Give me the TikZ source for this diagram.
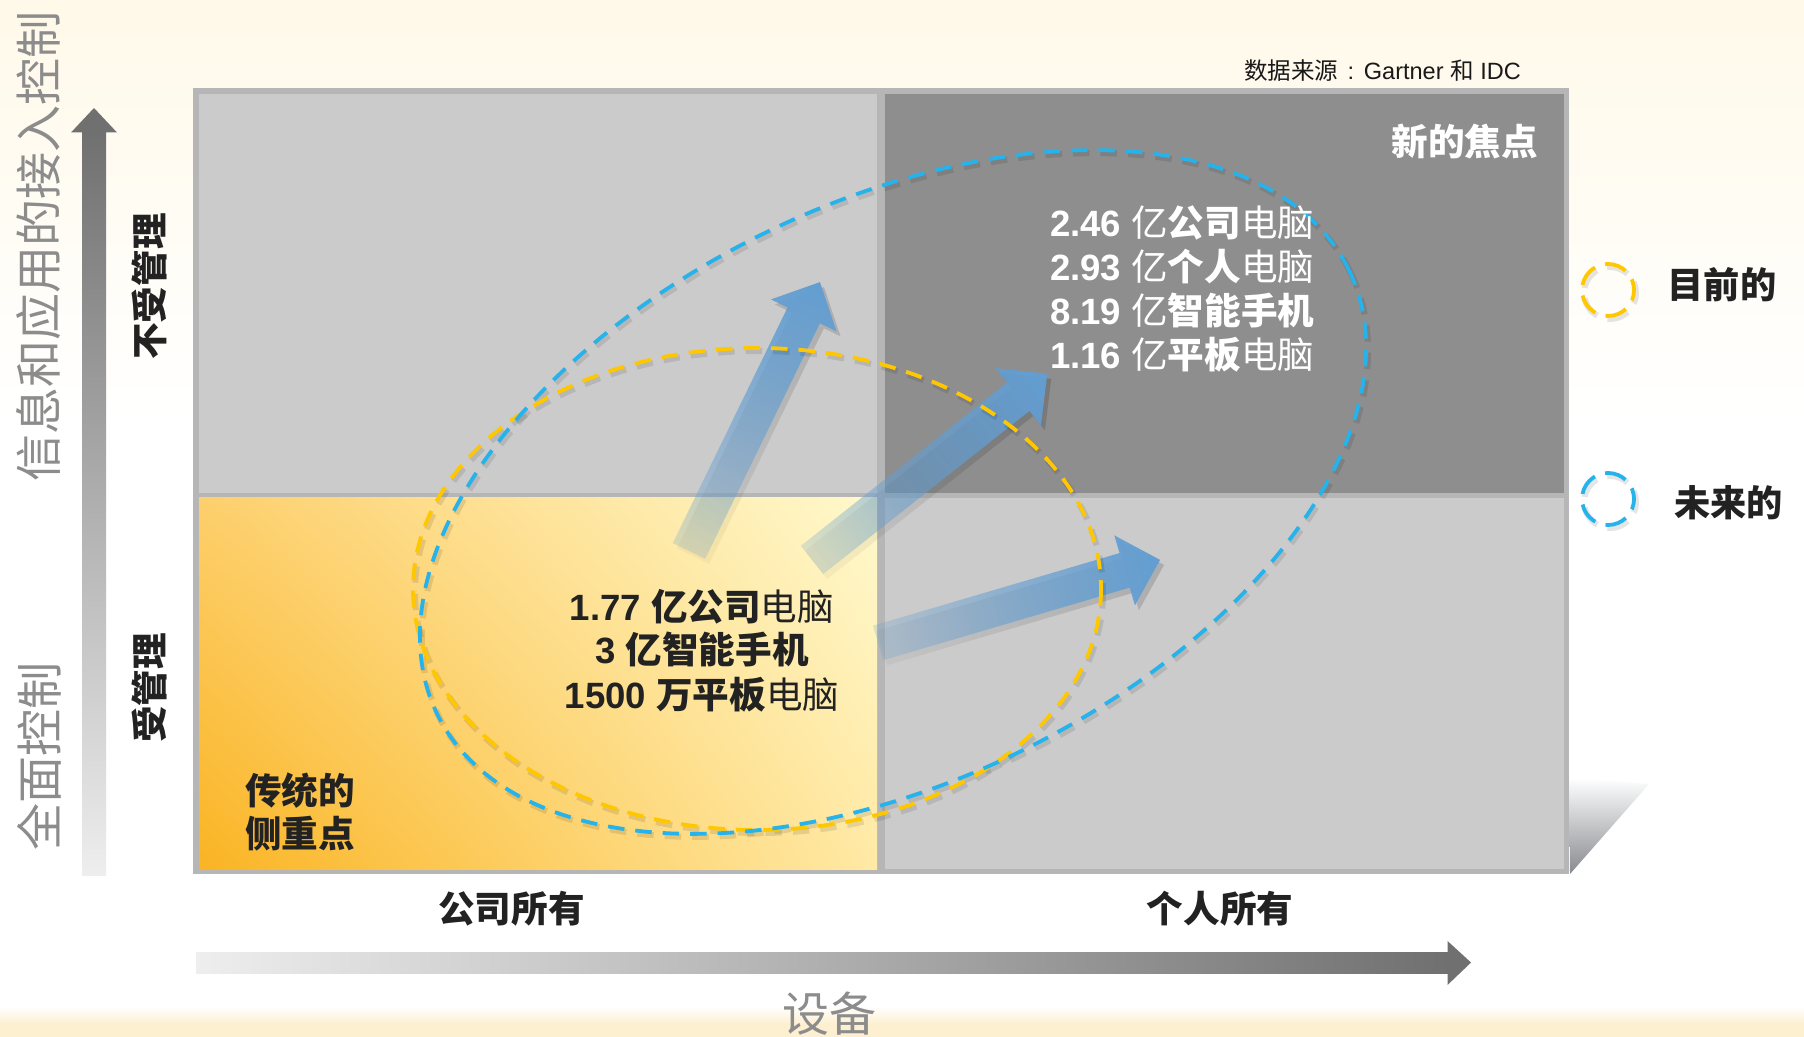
\documentclass[tikz,border=0pt]{standalone}
\usepackage{fontspec}
\setmainfont{Liberation Sans}
\newfontfamily\cjk{Noto Sans CJK SC}
\usetikzlibrary{fadings,shadings}

\begin{tikzfadingfrompicture}[name=arrowfade]
  \fill[transparent!100] (-50bp,-50bp) rectangle (-38bp,50bp);
  \shade[left color=transparent!100, middle color=transparent!68, right color=transparent!0] (-38.5bp,-50bp) rectangle (24bp,50bp);
  \fill[transparent!0] (23.5bp,-50bp) rectangle (50bp,50bp);
\end{tikzfadingfrompicture}

\definecolor{cream}{RGB}{255,249,233}
\definecolor{creamB}{RGB}{253,240,208}
\definecolor{qlight}{RGB}{203,203,203}
\definecolor{qdark}{RGB}{142,142,142}
\definecolor{qborder}{RGB}{182,182,182}
\definecolor{axisgray}{RGB}{140,140,140}
\definecolor{txtdark}{RGB}{34,34,34}
\definecolor{ablue}{RGB}{99,158,210}
\definecolor{dblue}{RGB}{38,178,234}
\definecolor{dyellow}{RGB}{255,199,0}
\definecolor{orangeLL}{RGB}{250,180,35}
\definecolor{orangeUL}{RGB}{253,207,108}
\definecolor{orangeLR}{RGB}{255,233,165}
\definecolor{orangeUR}{RGB}{255,249,205}
\definecolor{axdark}{RGB}{112,112,112}
\definecolor{axlight}{RGB}{238,238,238}
\definecolor{wedgegray}{RGB}{135,138,143}

\newcommand\zb[1]{{\cjk\bfseries #1}}
\newcommand\zr[1]{{\cjk\mdseries #1}}

\newcommand\fadearrow[5]{% #1 name, #2 tail x, #3 tail y, #4 angle, #5 length
  \pgfmathsetmacro\afcx{#2+0.5*#5*cos(#4)}%
  \pgfmathsetmacro\afcy{#3-0.5*#5*sin(#4)}%
  \pgfmathsetmacro\afh{0.5*#5+4}%
  \pgfmathsetmacro\afs{#5-37}%
  \coordinate (#1-s1) at (\afcx-\afh+4,\afcy-\afh+5);
  \coordinate (#1-s2) at (\afcx+\afh+4,\afcy+\afh+5);
  \coordinate (#1-b1) at (\afcx-\afh,\afcy-\afh);
  \coordinate (#1-b2) at (\afcx+\afh,\afcy+\afh);
  \begin{scope}[shift={(#2+4,#3+5)}, rotate=#4]
    \fill[black, fill opacity=0.15, path fading=arrowfade, fading angle=#4]
      (#1-s1) (#1-s2) (0,-18) -- (\afs,-18) -- (\afs,-36.5) -- (#5,0) -- (\afs,36.5) -- (\afs,18) -- (0,18) -- cycle;
  \end{scope}
  \begin{scope}[shift={(#2,#3)}, rotate=#4]
    \fill[ablue, path fading=arrowfade, fading angle=#4]
      (#1-b1) (#1-b2) (0,-18) -- (\afs,-18) -- (\afs,-36.5) -- (#5,0) -- (\afs,36.5) -- (\afs,18) -- (0,18) -- cycle;
  \end{scope}
}

\tikzset{
  lbl/.style={inner sep=0pt, outer sep=0pt},
  axistxt/.style={lbl, text=axisgray, font=\cjk\fontsize{13.37pt}{15pt}\selectfont},
  boldlbl/.style={lbl, text=txtdark, font=\cjk\bfseries\fontsize{10.4pt}{12.5pt}\selectfont},
  numline/.style={lbl, font=\bfseries\fontsize{10.4pt}{12.5pt}\selectfont},
  dashln/.style={line width=0.038cm, dash pattern=on 0.165cm off 0.11cm},
  dashshadow/.style={dashln, draw=black, draw opacity=0.10, line width=0.06cm},
  legcirc/.style={circle, minimum size=0.52cm, inner sep=0pt, line width=0.038cm,
    dash pattern=on 0.22cm off 0.107cm, dash phase=0.11cm},
}

\begin{document}
\begin{tikzpicture}[x=0.01cm, y=-0.01cm]
\useasboundingbox (0,0) rectangle (1804,1037);
% background
\fill[white] (0,0) rectangle (1804,1037);
\shade[top color=cream, bottom color=white] (0,0) rectangle (1804,420);
\shade[top color=white, bottom color=creamB] (0,1006) rectangle (1804,1024);
\fill[creamB] (0,1023.5) rectangle (1804,1037);

% main frame and quadrants
\fill[qborder] (193,88) rectangle (1569,874);
\fill[qlight] (199,94) rectangle (877,493);
\fill[qdark] (885,94) rectangle (1564,493);
\shade[upper left=orangeUL, upper right=orangeUR, lower left=orangeLL, lower right=orangeLR] (199,498) rectangle (877,869);
\fill[qlight] (885,498) rectangle (1564,869);
% wedge shadow
\shade[top color=white, bottom color=wedgegray] (1569,778) -- (1649,784) -- (1570,874) -- cycle;

% axis arrows
\shade[top color=axdark, bottom color=axlight] (82,132) rectangle (106,875);
\fill[axdark] (71,132.5) -- (94,108) -- (117,132.5) -- cycle;
\shade[left color=axlight, right color=axdark] (196,952) rectangle (1448,973);
\fill[axdark] (1447.5,941) -- (1471,962.5) -- (1447.5,985) -- cycle;

% blue fading arrows
\fadearrow{ar1}{689}{551}{64.03}{299}
\fadearrow{ar2}{812}{560}{38.36}{300}
\fadearrow{ar3}{878}{643}{16.4}{294}

% dashed ellipses
\draw[dashshadow, shift={(2,3)}] (757,589) ellipse [x radius=344, y radius=241];
\draw[dashshadow, shift={(2,3)}, rotate around={26:(893,492)}] (893,492) ellipse [x radius=507, y radius=289];
\draw[dashln, draw=dyellow] (757,589) ellipse [x radius=344, y radius=241];
\draw[dashln, draw=dblue, rotate around={26:(893,492)}] (893,492) ellipse [x radius=507, y radius=289];

% legend
\node[legcirc, draw=black, draw opacity=0.10, line width=0.06cm] (legYs) at (1610,293) {};
\node[legcirc, draw=black, draw opacity=0.10, line width=0.06cm] (legBs) at (1610,502) {};
\node[legcirc, draw=dyellow] (legY) at (1608,290) {};
\node[legcirc, draw=dblue] (legB) at (1608,499) {};
\node[boldlbl, font=\cjk\bfseries\fontsize{10.3pt}{12pt}\selectfont] (legYt) at (1722,285) {目前的};
\node[boldlbl, font=\cjk\bfseries\fontsize{10.3pt}{12pt}\selectfont] (legBt) at (1728.5,502.5) {未来的};

% source
\node[lbl, text=black!90, font=\fontsize{6.69pt}{8pt}\selectfont] (src) at (1382.5,71)
  {{\cjk 数据来源}\hspace{2.6pt}:\hspace{2.8pt}Gartner {\cjk 和} IDC};

% axis texts
\node[axistxt, rotate=90] (yax1) at (39,246.5) {信息和应用的接入控制};
\node[axistxt, rotate=90] (yax2) at (39,756.5) {全面控制};
\node[axistxt] (xax) at (829.5,1013.5) {设备};
\node[boldlbl, rotate=90] (row1) at (149,286.5) {不受管理};
\node[boldlbl, rotate=90] (row2) at (149,688) {受管理};
\node[boldlbl] (col1) at (511.5,909) {公司所有};
\node[boldlbl] (col2) at (1220,908.5) {个人所有};

% quadrant texts
\node[boldlbl, text=white, anchor=east] (focus) at (1538,141.5) {新的焦点};
\node[numline, text=white, anchor=west] (tr1) at (1050,222.5) {2.46 \zr{亿}\zb{公司}\zr{电脑}};
\node[numline, text=white, anchor=west] (tr2) at (1050,266.5) {2.93 \zr{亿}\zb{个人}\zr{电脑}};
\node[numline, text=white, anchor=west] (tr3) at (1050,310) {8.19 \zr{亿}\zb{智能手机}};
\node[numline, text=white, anchor=west] (tr4) at (1050,355) {1.16 \zr{亿}\zb{平板}\zr{电脑}};

\node[numline, text=txtdark] (bl1) at (702,607) {1.77 \zb{亿公司}\zr{电脑}};
\node[numline, text=txtdark] (bl2) at (702,649) {3 \zb{亿智能手机}};
\node[numline, text=txtdark] (bl3) at (702,694.5) {1500 \zb{万平板}\zr{电脑}};

\node[boldlbl, anchor=west] (trad1) at (245,790.5) {传统的};
\node[boldlbl, anchor=west] (trad2) at (245,833.5) {侧重点};
\end{tikzpicture}
\end{document}
